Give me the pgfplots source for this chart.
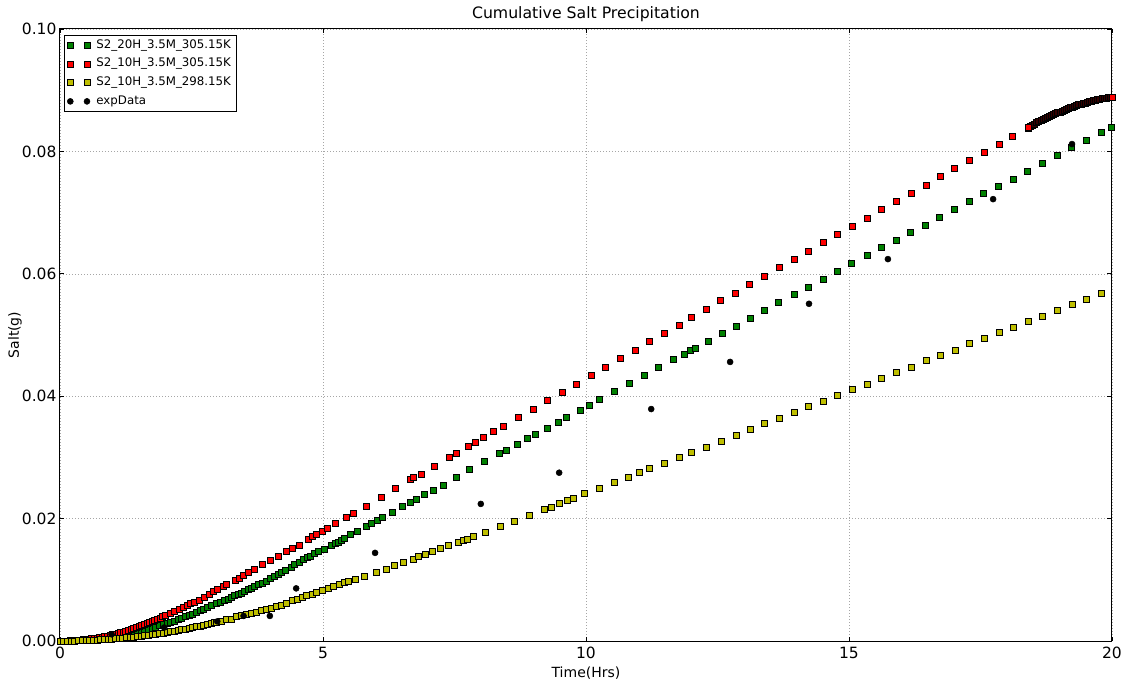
\documentclass[border=0pt]{standalone}
\usepackage{fontspec}
\setmainfont{DejaVu Sans}
\usepackage{pgfplots}
\pgfplotsset{compat=1.18}
\definecolor{mgreen}{rgb}{0,0.5,0}
\definecolor{myellow}{rgb}{0.75,0.75,0}
\begin{document}
\begin{tikzpicture}
\useasboundingbox (-60pt,-40pt) rectangle (1061pt,641pt);
\begin{axis}[
  at={(0pt,0pt)}, anchor=south west,
  scale only axis, width=1052pt, height=612pt,
  xmin=0, xmax=20, ymin=0, ymax=0.1,
  xtick={0,5,10,15,20}, ytick={0,0.02,0.04,0.06,0.08,0.1},
  scaled y ticks=false,
  /pgf/number format/assume math mode=true,
  axis line style={black, line width=1pt},
  tick style={black, line width=0.8pt},
  major tick length=4.5pt,
  tick align=inside,
  grid=major,
  major grid style={black!35, line width=0.5pt, dash pattern=on 1pt off 2pt},
  xticklabel style={font=\fontsize{15.5}{18}\selectfont, anchor=base, yshift=-17pt, inner sep=0pt},
  yticklabel style={font=\fontsize{15.5}{18}\selectfont, /pgf/number format/.cd, fixed, fixed zerofill, precision=2},
  title={Cumulative Salt Precipitation},
  title style={at={(axis description cs:0.5,1)}, anchor=base, yshift=4pt, font=\fontsize{15.7}{18}\selectfont},
  xlabel={Time(Hrs)},
  xlabel style={at={([yshift=-36pt]axis description cs:0.5,0)}, anchor=base, font=\fontsize{14}{17}\selectfont},
  ylabel={Salt(g)},
  ylabel style={at={([xshift=-41pt]axis description cs:0,0.5)}, anchor=base, font=\fontsize{14}{17}\selectfont},
  legend image code/.code={\draw plot coordinates {(0pt,0pt) (16.7pt,0pt)};},
  legend cell align=left,
  legend style={at={(axis description cs:0.0038,0.9902)}, anchor=north west,
    draw=black, line width=0.6pt, fill=white, inner ysep=2.5pt, inner xsep=3pt,
    font=\fontsize{11.8}{13}\selectfont, row sep=3.7pt, column sep=4.4pt,
    nodes={inner sep=2pt, text height=8.5pt, text depth=2.5pt}},
]
\addplot[only marks, mark=square*, mark size=3pt, mark options={fill=mgreen, draw=black, line width=0.5pt}] coordinates {
(0,0) (0.07,0.0000034) (0.14,0.0000137) (0.21,0.0000309) (0.28,0.0000549) (0.35,0.0000858) (0.42,0.000123) (0.49,0.000168) (0.56,0.000220) (0.63,0.000278) (0.70,0.000343) (0.77,0.000415) (0.84,0.000494) (0.91,0.000580) (0.98,0.000672) (1.05,0.000772) (1.12,0.000878) (1.19,0.000991) (1.26,0.001111) (1.33,0.001238) (1.40,0.001372) (1.47,0.001513) (1.54,0.001660) (1.61,0.001815) (1.68,0.001976) (1.75,0.002144) (1.82,0.002319) (1.89,0.002500) (1.96,0.002689) (2.03,0.002885) (2.10,0.003087) (2.17,0.003296) (2.24,0.003512) (2.31,0.003735) (2.38,0.003965) (2.45,0.004202) (2.52,0.004445) (2.59,0.004696) (2.66,0.004953) (2.73,0.005217) (2.80,0.005488)
(2.88,0.00577) (2.98,0.0062) (3.05,0.0064) (3.12,0.0067) (3.19,0.0069) (3.25,0.0071) (3.31,0.0074) (3.38,0.0076) (3.44,0.0078) (3.50,0.0081) (3.57,0.0084) (3.63,0.0087) (3.69,0.0089) (3.77,0.0093) (3.84,0.0095) (3.92,0.0098) (4.00,0.0102) (4.07,0.0106) (4.14,0.0109) (4.21,0.0113) (4.29,0.0116) (4.39,0.0121) (4.45,0.0125) (4.54,0.0129) (4.63,0.0133) (4.70,0.0137) (4.76,0.0139) (4.83,0.0143) (4.91,0.0147)
(5.03,0.0150) (5.15,0.0156) (5.23,0.0160) (5.29,0.0162) (5.35,0.0165) (5.41,0.0168) (5.52,0.0174) (5.66,0.0180) (5.82,0.0188) (5.92,0.0192) (6.03,0.0197) (6.13,0.0202) (6.32,0.0211) (6.51,0.0220) (6.65,0.0226) (6.77,0.0232) (6.92,0.0239) (7.09,0.0247) (7.28,0.0255) (7.53,0.0267) (7.79,0.0281) (8.07,0.0293) (8.35,0.0306) (8.49,0.0312) (8.69,0.0322) (8.89,0.0331) (9.04,0.0338) (9.26,0.0348) (9.47,0.0358) (9.63,0.0366) (9.89,0.0377) (10.06,0.0386) (10.26,0.0395) (10.54,0.0408) (10.82,0.0421) (11.10,0.0434) (11.38,0.0447) (11.66,0.0460) (11.87,0.0469) (11.99,0.0475) (12.07,0.0479) (12.32,0.0490) (12.59,0.0503) (12.86,0.0515) (13.12,0.0527) (13.38,0.0540) (13.66,0.0553) (13.95,0.0566) (14.23,0.0578) (14.51,0.0591) (14.78,0.0604) (15.05,0.0617) (15.34,0.0630) (15.61,0.0643) (15.89,0.0655) (16.17,0.0668) (16.45,0.0680) (16.72,0.0693) (17.00,0.0705) (17.28,0.0718) (17.56,0.0731) (17.84,0.0743) (18.12,0.0755) (18.39,0.0768) (18.67,0.0781) (18.95,0.0793) (19.23,0.0806) (19.51,0.0818) (19.79,0.0831) (19.99,0.0840)
};
\addlegendentry{S2\_20H\_3.5M\_305.15K}
\addplot[only marks, mark=square*, mark size=3pt, mark options={fill=red, draw=black, line width=0.5pt}] coordinates {
(0,0) (0.05,0.000003) (0.1,0.0000105) (0.15,0.0000236) (0.2,0.000042) (0.25,0.0000656) (0.3,0.0000945) (0.35,0.000129) (0.4,0.000168) (0.45,0.000213) (0.5,0.000263) (0.55,0.000318) (0.6,0.000378) (0.65,0.000444) (0.7,0.000515) (0.75,0.000591) (0.8,0.000672) (0.85,0.000759) (0.9,0.000851) (0.95,0.000948) (1.0,0.00105) (1.05,0.001158) (1.1,0.00127) (1.15,0.001389) (1.2,0.001512) (1.25,0.001641) (1.3,0.001775) (1.35,0.001914) (1.4,0.002058) (1.45,0.002208) (1.5,0.002363) (1.55,0.002523) (1.6,0.002688) (1.65,0.002859) (1.7,0.003035) (1.75,0.003216) (1.8,0.003402) (1.85,0.003594) (1.9,0.003791) (1.95,0.003993) (2.0,0.0042)
(2.09,0.0045) (2.17,0.0049) (2.26,0.0052) (2.34,0.0055) (2.41,0.0058) (2.48,0.0061) (2.56,0.0064) (2.65,0.0067) (2.74,0.0072) (2.83,0.0077) (2.91,0.0081) (2.99,0.0084) (3.10,0.0089) (3.16,0.0092) (3.33,0.0100) (3.40,0.0103) (3.48,0.0108) (3.58,0.0112) (3.70,0.0118) (3.85,0.0125) (4.00,0.0132) (4.14,0.0138) (4.30,0.0146) (4.42,0.0152) (4.54,0.0157) (4.72,0.0167) (4.80,0.0171) (4.88,0.0175)
(4.99,0.0180) (5.09,0.0185) (5.23,0.0192) (5.44,0.0203) (5.58,0.0209) (5.82,0.0221) (6.10,0.0235) (6.38,0.0250) (6.66,0.0264) (6.72,0.0267) (6.86,0.0273) (7.11,0.0285) (7.40,0.0300) (7.54,0.0307) (7.76,0.0318) (7.89,0.0324) (8.05,0.0333) (8.24,0.0342) (8.43,0.0351) (8.71,0.0366) (8.99,0.0379) (9.26,0.0393) (9.54,0.0406) (9.82,0.0420)
(10.10,0.0434) (10.37,0.0448) (10.66,0.0462) (10.93,0.0475) (11.21,0.0490) (11.49,0.0503) (11.77,0.0516) (12.01,0.0529) (12.28,0.0542) (12.56,0.0556) (12.84,0.0569) (13.11,0.0583) (13.39,0.0596) (13.68,0.0610) (13.95,0.0624) (14.23,0.0637) (14.51,0.0651) (14.78,0.0665)
(15.06,0.0678) (15.34,0.0691) (15.62,0.0705) (15.90,0.0718) (16.18,0.0732) (16.46,0.0745) (16.73,0.0759) (17.01,0.0773) (17.29,0.0786) (17.57,0.0799) (17.85,0.0812) (18.10,0.0825) (18.40,0.0838)
};
\addlegendentry{S2\_10H\_3.5M\_305.15K}
\addplot[forget plot, only marks, mark=square*, mark size=3pt, mark options={fill=red!20!black, draw=black, line width=0.8pt}] coordinates {
(18.41,0.08390) (18.45,0.084095) (18.49,0.084287) (18.53,0.084475) (18.57,0.084660) (18.61,0.084841) (18.65,0.085018) (18.69,0.085192) (18.73,0.085362) (18.77,0.085529) (18.81,0.085692) (18.85,0.085852) (18.89,0.086007) (18.93,0.086160) (18.97,0.086308) (19.01,0.086453) (19.05,0.086595) (19.09,0.086733) (19.13,0.086867) (19.17,0.086998) (19.21,0.087125) (19.25,0.087248) (19.29,0.087369) (19.33,0.087485) (19.37,0.087598) (19.41,0.087707) (19.45,0.087812) (19.49,0.087914) (19.53,0.088013) (19.57,0.088108) (19.61,0.088199) (19.65,0.088287) (19.69,0.088371) (19.73,0.088451) (19.77,0.088528) (19.81,0.088602) (19.85,0.088671) (19.89,0.088737) (19.93,0.088800) (19.97,0.088859)
};
\addplot[forget plot, only marks, mark=square*, mark size=3pt, mark options={fill=red, draw=black, line width=0.5pt}] coordinates {
(18.41,0.08390) (20.00,0.0889)
};
\addplot[only marks, mark=square*, mark size=3pt, mark options={fill=myellow, draw=black, line width=0.5pt}] coordinates {
(0,0) (0.07,0.0000017) (0.14,0.0000069) (0.21,0.0000154) (0.28,0.0000274) (0.35,0.0000429) (0.42,0.0000617) (0.49,0.000084) (0.56,0.00011) (0.63,0.000139) (0.70,0.000172) (0.77,0.000208) (0.84,0.000247) (0.91,0.00029) (0.98,0.000336) (1.05,0.000386) (1.12,0.000439) (1.19,0.000496) (1.26,0.000556) (1.33,0.000619) (1.40,0.000686) (1.47,0.000756) (1.54,0.00083) (1.61,0.000907) (1.68,0.000988) (1.75,0.001072) (1.82,0.00116) (1.89,0.00125) (1.96,0.001345) (2.03,0.001442) (2.10,0.001544) (2.17,0.001648) (2.24,0.001756) (2.31,0.001868) (2.38,0.001983) (2.45,0.002101) (2.52,0.002223) (2.59,0.002348) (2.66,0.002477) (2.73,0.002608) (2.80,0.002744) (2.87,0.002883) (2.94,0.003025)
(2.98,0.00306) (3.07,0.0033) (3.17,0.0035) (3.26,0.0036) (3.36,0.0040) (3.45,0.0042) (3.55,0.0044) (3.64,0.0045) (3.74,0.0047) (3.82,0.0050) (3.92,0.0052) (4.01,0.0054) (4.11,0.0057) (4.20,0.0059) (4.31,0.0062) (4.42,0.0066) (4.51,0.0069) (4.61,0.0071) (4.69,0.0074) (4.79,0.0076) (4.88,0.0080)
(4.99,0.0083) (5.10,0.0087) (5.20,0.0090) (5.30,0.0093) (5.40,0.0096)
(5.48,0.0098) (5.61,0.0101) (5.79,0.0105) (6.01,0.0112) (6.21,0.0118) (6.36,0.0123) (6.52,0.0129) (6.72,0.0134) (6.82,0.0138) (6.95,0.0142) (7.07,0.0147) (7.23,0.0151) (7.39,0.0156) (7.58,0.0162) (7.66,0.0165) (7.74,0.0167) (7.86,0.0171) (8.09,0.0178) (8.37,0.0187) (8.64,0.0196) (8.92,0.0206) (9.20,0.0215) (9.33,0.0219) (9.50,0.0225) (9.65,0.0230) (9.76,0.0233) (9.97,0.0241)
(10.25,0.0250) (10.53,0.0259) (10.81,0.0268) (11.01,0.0276) (11.20,0.0282) (11.49,0.0291) (11.77,0.0301) (12.01,0.0309) (12.28,0.0317) (12.57,0.0327) (12.85,0.0337) (13.12,0.0346) (13.39,0.0355) (13.68,0.0364) (13.95,0.0373) (14.23,0.0384) (14.51,0.0392) (14.78,0.0401) (15.06,0.0411)
(15.34,0.0420) (15.62,0.0430) (15.90,0.0439) (16.18,0.0448) (16.46,0.0458) (16.74,0.0467) (17.02,0.0475) (17.29,0.0486) (17.57,0.0495) (17.86,0.0504) (18.12,0.0513) (18.40,0.0522) (18.68,0.0531) (18.96,0.0540) (19.25,0.0550) (19.52,0.0559) (19.79,0.0568)
};
\addlegendentry{S2\_10H\_3.5M\_298.15K}
\addplot[only marks, mark=*, mark size=3pt, mark options={fill=black, draw=black, line width=0.5pt}] coordinates {
(0.98,0.0011) (1.98,0.0022) (2.99,0.0032) (3.49,0.0041) (3.99,0.0041) (4.49,0.0086) (5.99,0.0144) (8.0,0.0224) (9.49,0.0275) (11.24,0.0379) (12.74,0.0456) (14.24,0.0551) (15.74,0.0624) (17.74,0.0722) (19.24,0.0812)
};
\addlegendentry{expData}
\end{axis}
\end{tikzpicture}
\end{document}
